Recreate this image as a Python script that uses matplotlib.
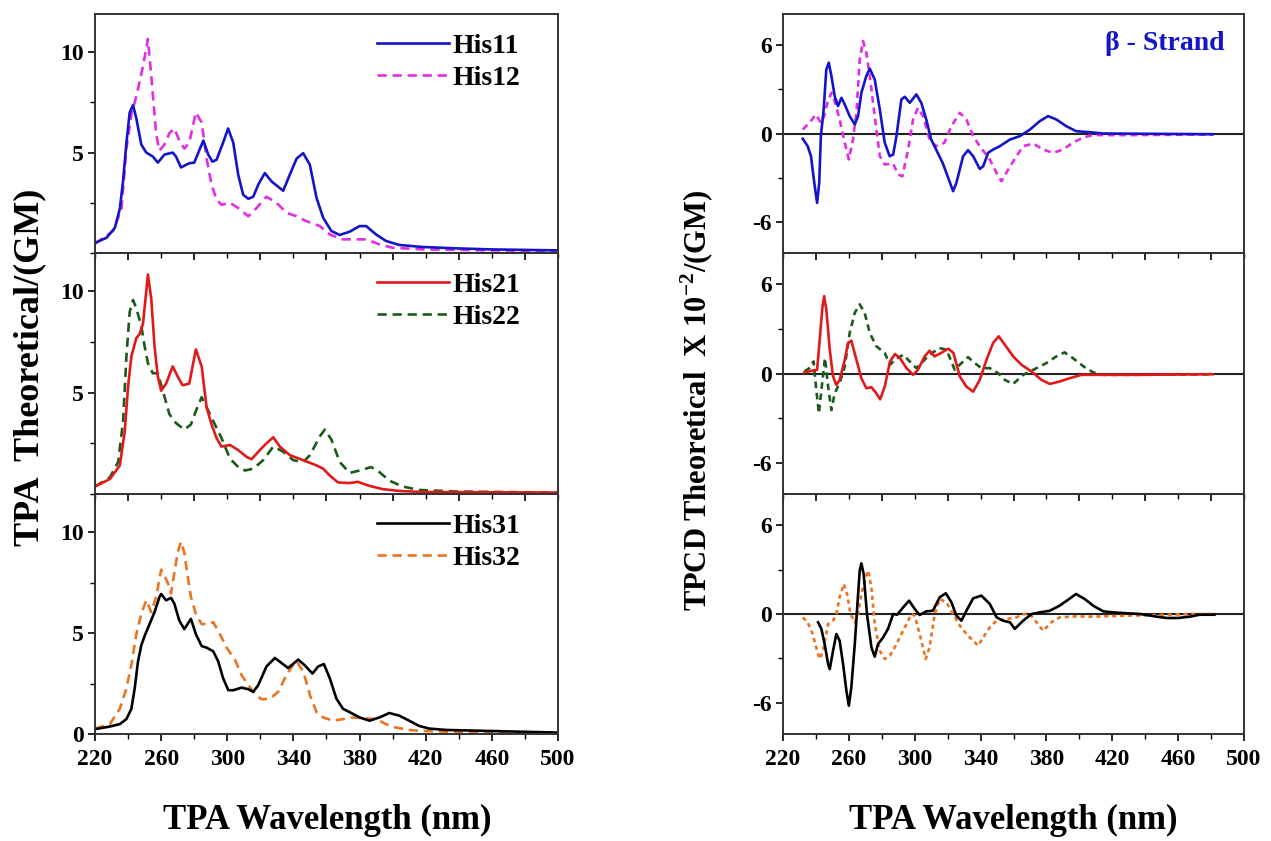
import matplotlib
matplotlib.use("Agg")
import matplotlib.pyplot as plt
from matplotlib.ticker import MultipleLocator

plt.rcParams['font.family'] = ['Liberation Serif', 'DejaVu Serif']
plt.rcParams['font.weight'] = 'bold'
plt.rcParams['mathtext.fontset'] = 'custom'
plt.rcParams['mathtext.rm'] = 'Liberation Serif:bold'
plt.rcParams['mathtext.bf'] = 'Liberation Serif:bold'

# ---------------- TPA data (left panels) ----------------
his11_x = [220, 227, 232, 235, 237, 239, 241, 243, 245, 248, 251, 255, 258, 262, 267, 269, 272, 277, 280, 282,
           285.5, 288.5, 291, 293.5, 297.5, 300.5, 303.6, 306.6, 309.6, 312.7, 315.7, 318.7, 322.7, 326.8, 333.8,
           337.8, 341.9, 345.9, 349.9, 354, 358, 363, 368, 374, 380, 384, 390, 396, 404, 418, 439, 459, 500]
his11_y = [0.5, 0.76, 1.25, 2.2, 3.6, 5.5, 7.0, 7.36, 6.7, 5.4, 5.0, 4.8, 4.5, 4.9, 5.0, 4.8, 4.26, 4.47, 4.5, 4.9,
           5.6, 4.9, 4.55, 4.64, 5.5, 6.2, 5.5, 3.9, 2.9, 2.7, 2.8, 3.4, 3.98, 3.56, 3.1,
           3.9, 4.7, 4.97, 4.4, 2.74, 1.75, 1.09, 0.9, 1.06, 1.34, 1.34, 0.92, 0.6, 0.4, 0.3, 0.23, 0.18, 0.13]

his12_x = [220, 231, 236, 239, 242, 245, 249, 252, 254, 257, 259, 262, 265, 268, 271, 274, 277, 281, 284.5,
           287.5, 290.5, 293.5, 296.5, 301.6, 306.6, 312.7, 317.7, 323.7, 329.8, 335.8, 341.9, 348, 356, 362,
           370, 378, 384, 392, 400, 418, 459, 500]
his12_y = [0.46, 1.1, 2.2, 5.2, 6.9, 7.8, 9.3, 10.66, 8.85, 5.9, 5.1, 5.4, 5.96, 6.2, 5.6, 5.2, 5.5, 7.0, 6.5,
           4.7, 3.4, 2.66, 2.4, 2.5, 2.24, 1.83, 2.24, 2.8, 2.5, 2.0, 1.83, 1.58, 1.34, 0.92,
           0.68, 0.68, 0.68, 0.43, 0.26, 0.18, 0.13, 0.1]

his21_x = [220, 229, 235, 238, 240, 242, 245, 247, 249, 251, 252, 254, 256, 258, 260, 263, 267, 270, 273, 277,
           281, 284.5, 287.5, 290.5, 293.5, 296.5, 301.6, 306.6, 311.7, 314.7, 319.7, 323.7, 327.8, 331.8,
           337.8, 345.9, 354, 358, 362, 367, 374, 379, 386, 394, 404, 418, 500]
his21_y = [0.37, 0.74, 1.41, 3.1, 5.3, 6.8, 7.7, 7.9, 8.4, 10.0, 10.84, 9.66, 7.3, 5.8, 5.1, 5.45, 6.3, 5.8, 5.37,
           5.45, 7.14, 6.3, 4.28, 3.43, 2.76, 2.34, 2.42, 2.17, 1.83, 1.72, 2.17, 2.5, 2.8, 2.34,
           1.92, 1.67, 1.41, 1.25, 0.91, 0.57, 0.54, 0.6, 0.4, 0.24, 0.15, 0.1, 0.07]

his22_x = [220, 229, 234, 237, 239, 241, 243, 245, 248, 250, 252, 255, 258, 261, 265, 269, 274, 278, 281,
           284.5, 287.5, 291.5, 296.5, 301.6, 306.6, 310.7, 315.7, 321.7, 327.8, 333.8, 339.9, 345.9, 350,
           356, 359, 363, 368, 374, 380, 387, 392, 398, 406, 416, 439, 500]
his22_y = [0.37, 0.82, 1.58, 3.6, 6.8, 9.0, 9.58, 9.16, 8.3, 7.3, 6.46, 5.96, 5.96, 5.1, 3.94, 3.5, 3.18, 3.43,
           4.1, 4.78, 4.28, 3.6, 2.76, 1.75, 1.33, 1.16, 1.25, 1.67, 2.34, 2.09, 1.67, 1.58, 1.92,
           2.85, 3.18, 2.68, 1.58, 1.04, 1.16, 1.33, 1.08, 0.66, 0.37, 0.2, 0.12, 0.07]

his31_x = [220, 229, 235, 239, 242, 244, 246, 248, 250, 253, 256, 259, 260, 263, 266, 268, 271, 274, 276, 278,
           281, 284.5, 287.5, 291.5, 294.5, 297.5, 300.6, 303.6, 308.6, 312.7, 315.7, 318.7, 323.7, 328.8,
           332.8, 336.8, 342.9, 346.9, 351.5, 355, 358.4, 362, 366, 370, 375, 380, 386, 392, 398, 404, 410,
           416, 422, 432.5, 459, 500]
his31_y = [0.24, 0.37, 0.49, 0.74, 1.25, 2.26, 3.6, 4.4, 4.86, 5.45, 6.04, 6.8, 6.94, 6.63, 6.75, 6.46, 5.62,
           5.2, 5.45, 5.71, 4.95, 4.36, 4.28, 4.1, 3.6, 2.76, 2.17, 2.17, 2.3, 2.22, 2.09, 2.42, 3.35,
           3.77, 3.52, 3.27, 3.69, 3.4, 3.0, 3.35, 3.47, 2.76, 1.75, 1.25, 1.04, 0.82, 0.66, 0.82, 1.04,
           0.91, 0.66, 0.4, 0.27, 0.2, 0.15, 0.07]

his32_x = [220, 229, 235, 239, 242, 245, 248, 251, 254, 257, 260, 262, 264, 266, 268, 270, 272, 274, 276, 278,
           281, 284.5, 288.5, 291.5, 294.5, 299.6, 304.6, 308.6, 312.7, 316.7, 320.7, 325.8, 330.8, 335.8,
           339.9, 341.9, 346, 350, 354, 358, 364, 370, 376, 384, 390, 396, 402, 410, 418, 439, 500]
his32_y = [0.27, 0.49, 1.25, 2.26, 3.43, 4.95, 5.96, 6.63, 6.04, 6.8, 8.15, 7.85, 7.5, 6.97, 8.0, 9.0, 9.53,
           9.0, 7.85, 6.8, 5.96, 5.45, 5.45, 5.54, 5.12, 4.28, 3.69, 2.93, 2.42, 2.0, 1.72, 1.75, 2.09,
           2.93, 3.43, 3.6, 3.1, 1.92, 1.08, 0.82, 0.66, 0.74, 0.82, 0.77, 0.74, 0.49, 0.32, 0.2, 0.15,
           0.1, 0.07]

# ---------------- TPCD data (right panels) ----------------
cd11_x = [232, 235, 237, 239, 240.7, 242, 243, 244.7, 246.3, 247.8, 249.4, 251.4, 253.4, 255.5, 257.5, 260.5,
          263.6, 265.6, 267.6, 270.6, 272.7, 275.7, 278.8, 281.8, 284.8, 286.9, 288.9, 291.9, 294, 297, 301,
          304, 307, 310, 313, 317, 320, 323.3, 325.3, 329.4, 332.4, 335.5, 339.5, 341.6, 344.6, 347.6,
          351.7, 357.8, 363.8, 370, 376, 381, 386, 392, 398, 406, 414.5, 481]
cd11_y = [-0.36, -0.86, -1.54, -3.35, -4.7, -3.35, -0.18, 1.63, 4.34, 4.8, 3.9, 2.53, 1.86, 2.42, 1.97, 1.18,
          0.61, 1.18, 2.76, 3.9, 4.39, 3.67, 1.63, -0.63, -1.54, -1.43, -0.18, 2.31, 2.49, 2.08, 2.65,
          2.08, 0.95, -0.41, -1.09, -2.0, -2.9, -3.91, -3.35, -1.54, -1.13, -1.54, -2.4, -2.22, -1.31,
          -1.09, -0.86, -0.41, -0.18, 0.27, 0.84, 1.18, 0.95, 0.5, 0.16, 0.09, 0.0, -0.05]

cd12_x = [232, 236, 240, 243, 245, 247, 249.4, 251.4, 254.4, 257.5, 260, 262.5, 264.6, 266.6, 268.6, 270.6,
          272.7, 275.7, 278.8, 281.8, 286.9, 289.9, 292.5, 296, 299, 302, 305, 309, 313, 318, 322.3, 327.4,
          331.4, 335.5, 339.5, 345.6, 349.7, 352.7, 356.8, 361.8, 365.9, 372, 378, 384, 390, 396, 402, 408,
          428.7, 481]
cd12_y = [0.27, 0.72, 1.29, 0.72, 1.18, 2.08, 2.76, 2.2, 0.95, -0.63, -1.76, -0.41, 1.4, 5.0, 6.27, 5.48, 3.9,
          1.18, -1.54, -2.1, -2.04, -2.78, -2.9, -1.09, 0.95, 1.74, 1.18, -0.41, -0.86, -0.63, 0.5, 1.4,
          0.95, -0.18, -0.86, -1.76, -2.67, -3.24, -2.44, -1.54, -0.86, -0.68, -1.09, -1.31, -1.09, -0.63,
          -0.29, -0.11, -0.11, -0.07]

cd21_x = [233, 238, 240.7, 242.3, 244, 245, 246.3, 248.4, 250.4, 252.4, 254.4, 257.5, 259.5, 261.5, 264.6,
          267.6, 270.6, 273.7, 276.7, 279, 281.8, 285, 288, 291, 295, 299, 302, 306, 309, 312, 316, 320.4,
          323.5, 327.4, 331.4, 335.5, 339.5, 343.6, 347.6, 351, 354.7, 359.8, 364.8, 370.9, 377, 382, 388,
          394, 401.3, 408.4, 436.8, 481]
cd21_y = [0.07, 0.2, 0.25, 2.28, 4.5, 5.2, 4.3, 1.6, -0.2, -0.77, -0.43, 0.92, 2.05, 2.21, 0.92, -0.32, -0.99,
          -0.92, -1.33, -1.74, -0.88, 0.81, 1.31, 1.04, 0.36, -0.09, 0.25, 1.15, 1.53, 1.15, 1.38, 1.67,
          1.38, -0.2, -0.88, -1.22, -0.43, 0.92, 2.05, 2.5, 1.94, 1.15, 0.59, 0.14, -0.43, -0.7, -0.54,
          -0.32, -0.09, -0.09, -0.09, -0.05]

cd22_x = [233, 236, 238.6, 240, 241.8, 244, 245.5, 247.4, 249.4, 251.4, 254.4, 257.5, 260.5, 263.6, 266.6,
          269.6, 272.7, 276.7, 281.8, 285, 288, 293, 297, 301, 305, 309, 315, 319.3, 324.3, 328.4, 332.4,
          336.5, 340.5, 345.6, 350.7, 354.7, 359.8, 365.9, 372, 380, 386, 391, 396, 402.6, 408.4, 414.5,
          428.7, 481]
cd22_y = [0.14, 0.36, 0.81, -0.88, -2.68, -0.43, 1.04, -0.88, -2.46, -1.33, -0.65, 0.47, 2.73, 4.08, 4.65,
          4.08, 2.73, 1.83, 1.38, 0.59, 0.92, 1.26, 0.81, 0.36, 0.81, 1.26, 1.71, 1.6, 0.25, 0.7, 1.1,
          0.7, 0.36, 0.36, 0.02, -0.43, -0.7, -0.09, 0.25, 0.7, 1.15, 1.42, 1.04, 0.47, 0.07, -0.09,
          -0.09, -0.05]

cd31_x = [241.3, 243.3, 245.3, 247.4, 248.4, 250.4, 252.4, 254.4, 256.5, 258.5, 260, 261.5, 263.6, 265.2,
          266.6, 267.6, 269, 271, 273.7, 275.7, 277.7, 280.8, 283.8, 286.9, 289.3, 293, 296.6, 300, 303,
          307, 311, 315.2, 318.9, 322.3, 325.3, 328.4, 331.4, 335.5, 340.5, 345.6, 349.7, 353.7, 357.8,
          360.8, 365.9, 371, 376, 382, 388, 393, 398, 403.3, 408.4, 414.5, 420.6, 428.7, 436.8, 447, 453,
          460, 467, 473, 482]
cd31_y = [-0.56, -1.0, -2.03, -3.38, -3.72, -2.48, -1.35, -1.8, -3.38, -5.18, -6.19, -4.95, -2.03, 0.68,
          2.93, 3.42, 2.7, 0.0, -2.25, -2.88, -2.03, -1.58, -1.0, 0.0, -0.05, 0.45, 0.9, 0.34, -0.07,
          0.18, 0.22, 1.13, 1.4, 0.79, -0.11, -0.45, 0.22, 1.06, 1.24, 0.68, -0.22, -0.45, -0.56,
          -1.0, -0.45, 0.0, 0.11, 0.22, 0.56, 0.95, 1.35, 1.01, 0.56, 0.18, 0.11, 0.05, 0.0, -0.18, -0.27,
          -0.27, -0.18, -0.05, -0.05]

cd32_x = [232, 235, 238, 240.7, 242.3, 244.3, 247.4, 250.4, 252.4, 254.4, 256.9, 258.9, 261, 263.6, 265.6,
          267.6, 270.2, 271.7, 273.7, 275.7, 278.8, 281.8, 284.8, 287.9, 290.9, 295, 298, 300, 303, 306.7,
          309, 312.2, 315.2, 319.3, 323.3, 327.4, 331.4, 335.5, 338.5, 341.6, 345.6, 349.7, 355.7, 361.8,
          365.9, 370, 374, 378, 383, 388, 398, 408.4, 428.7, 449, 469, 482]
cd32_y = [-0.23, -0.56, -1.35, -2.48, -3.04, -2.48, -0.68, -0.45, 0.0, 1.13, 2.03, 1.35, 0.0, -0.56, 0.0,
          1.35, 2.48, 2.93, 1.8, -0.68, -2.48, -3.04, -2.82, -2.25, -1.58, -0.68, 0.0, -0.11, -1.35,
          -3.04, -2.25, 0.0, 1.01, 0.79, 0.0, -0.79, -1.35, -1.8, -2.14, -1.58, -0.9, -0.45, -0.34,
          -0.23, 0.0, 0.0, -0.56, -1.13, -0.56, -0.23, -0.16, -0.18, -0.11, -0.07, 0.0, 0.0]

x_ticks = [220, 260, 300, 340, 380, 420, 460, 500]
tpa_ticks = [5, 10]
tpcd_ticks = [-6, 0, 6]

C_BLUE = '#1414c8'
C_MAG = '#e22ee2'
C_RED = '#e01a1a'
C_GREEN = '#1c5a1c'
C_BLACK = '#000000'
C_ORANGE = '#ea7424'

W, H = 1271, 841
fig = plt.figure(figsize=(W / 100, H / 100), dpi=100)

def fx(px):
    return px / W

def fy(py):
    return 1 - py / H

rows = [(14, 253), (253, 494), (494, 734)]
left_x = (95, 558)
right_x = (783, 1244)

def make_ax(xr, yr):
    ax = fig.add_axes([fx(xr[0]), fy(yr[1]), fx(xr[1] - xr[0]), (yr[1] - yr[0]) / H])
    ax.patch.set_alpha(0)
    for s in ax.spines.values():
        s.set_linewidth(1.4)
        s.set_color('#333333')
    return ax

tick_font = dict(fontsize=17, fontweight='bold')

left_series = [
    [(his11_x, his11_y, C_BLUE, '-', 'His11'), (his12_x, his12_y, C_MAG, (0, (3.5, 2.2)), 'His12')],
    [(his21_x, his21_y, C_RED, '-', 'His21'), (his22_x, his22_y, C_GREEN, (0, (3.5, 2.2)), 'His22')],
    [(his31_x, his31_y, C_BLACK, '-', 'His31'), (his32_x, his32_y, C_ORANGE, (0, (3.5, 2.2)), 'His32')],
]
right_series = [
    [(cd11_x, cd11_y, C_BLUE, '-'), (cd12_x, cd12_y, C_MAG, (0, (2.5, 1.8)))],
    [(cd21_x, cd21_y, C_RED, '-'), (cd22_x, cd22_y, C_GREEN, (0, (2.5, 1.8)))],
    [(cd31_x, cd31_y, C_BLACK, '-'), (cd32_x, cd32_y, C_ORANGE, (0, (1.6, 1.4)))],
]

for i, yr in enumerate(rows):
    # ---- left TPA panel ----
    ax = make_ax(left_x, yr)
    for (xs, ys, c, ls, lab) in left_series[i][::-1]:
        ax.plot(xs, ys, color=c, linestyle=ls, linewidth=1.9, label=lab)
    ax.set_xlim(220, 500)
    ax.set_ylim(0, 11.9)
    ax.xaxis.set_major_locator(MultipleLocator(40))
    ax.xaxis.set_minor_locator(MultipleLocator(20))
    ax.yaxis.set_minor_locator(MultipleLocator(2.5))
    ticks = [0] + tpa_ticks if i == 2 else tpa_ticks
    ax.set_yticks(ticks)
    ax.set_yticklabels([str(t) for t in ticks], **tick_font)
    ax.tick_params(axis='both', which='major', direction='out', length=5, width=1.2, pad=3)
    ax.tick_params(axis='both', which='minor', direction='out', length=3.5, width=1.0)
    ax.tick_params(axis='x', pad=6)
    if i == 2:
        ax.set_xticks(x_ticks)
        ax.set_xticklabels([str(t) for t in x_ticks], **tick_font)
    else:
        ax.tick_params(axis='x', labelbottom=False)
    h, l = ax.get_legend_handles_labels()
    ax.legend(h[::-1], l[::-1], loc='upper right', bbox_to_anchor=(0.955, 0.99), frameon=False,
              prop=dict(family='Liberation Serif', weight='bold', size=20),
              handlelength=2.6, handletextpad=0.12, labelspacing=0.25, borderaxespad=0.2)

    # ---- right TPCD panel ----
    axr = make_ax(right_x, yr)
    axr.axhline(0, color='#222222', linewidth=1.5, zorder=1)
    for (xs, ys, c, ls) in right_series[i][::-1]:
        axr.plot(xs, ys, color=c, linestyle=ls, linewidth=1.9, zorder=2)
    axr.set_xlim(220, 500)
    axr.set_ylim(-8.1, 8.1)
    axr.xaxis.set_major_locator(MultipleLocator(40))
    axr.xaxis.set_minor_locator(MultipleLocator(20))
    axr.yaxis.set_minor_locator(MultipleLocator(3))
    axr.set_yticks(tpcd_ticks)
    axr.set_yticklabels([str(t) for t in tpcd_ticks], **tick_font)
    axr.tick_params(axis='both', which='major', direction='out', length=5, width=1.2, pad=3)
    axr.tick_params(axis='both', which='minor', direction='out', length=3.5, width=1.0)
    axr.tick_params(axis='x', pad=6)
    if i == 2:
        axr.set_xticks(x_ticks)
        axr.set_xticklabels([str(t) for t in x_ticks], **tick_font)
    else:
        axr.tick_params(axis='x', labelbottom=False)
    if i == 0:
        axr.text(0.828, 0.875, '\u03b2 - Strand', transform=axr.transAxes, ha='center', va='center',
                 color=C_BLUE, fontsize=20, fontweight='bold')

# axis titles
fig.text(fx(327), fy(820), 'TPA Wavelength (nm)', ha='center', va='center', fontsize=25, fontweight='bold')
fig.text(fx(1013), fy(820), 'TPA Wavelength (nm)', ha='center', va='center', fontsize=25, fontweight='bold')
fig.text(fx(30), fy(367), 'TPA  Theoretical/(GM)', ha='center', va='center', rotation=90,
         fontsize=26, fontweight='bold')
fig.text(fx(697), fy(400), r'TPCD Theoretical  X 10$^{\mathbf{-2}}$/(GM)', ha='center', va='center',
         rotation=90, fontsize=22, fontweight='bold')

fig.savefig('out.png', dpi=100)
